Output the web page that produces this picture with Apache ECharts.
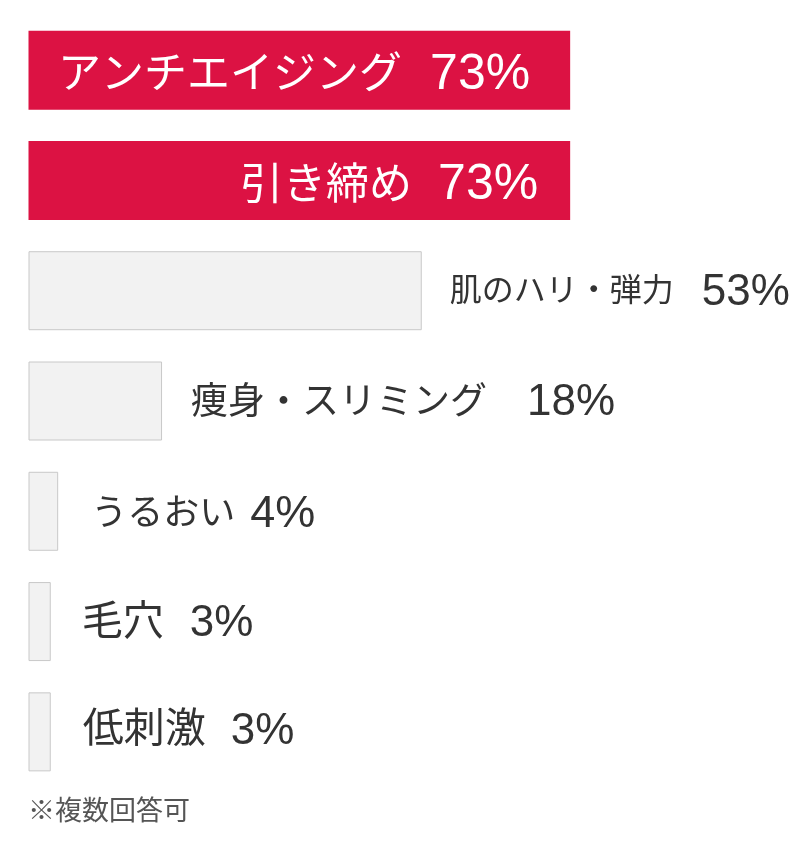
<!DOCTYPE html>
<html>
<head>
<meta charset="utf-8">
<script src="https://cdn.jsdelivr.net/npm/echarts@6/dist/echarts.min.js"></script>
<style>
html,body{margin:0;padding:0;background:#fff;}
#chart{width:800px;height:848px;}
</style>
</head>
<body>
<div id="chart"></div>
<script>
// Data
const categories = ['アンチエイジング', '引き締め', '肌のハリ・弾力', '痩身・スリミング', 'うるおい', '毛穴', '低刺激'];
const values = [73, 73, 53, 18, 4, 3, 3];
const highlighted = [true, true, false, false, false, false, false];
const footnote = '※複数回答可';

// Styles (per label: name font size, percent font size, gap, distance, vertical shifts)
const nameSizes = [43, 43, 32, 37, 36, 41, 41];
const pctSizes = [50, 50, 44, 44, 45, 44, 44];
const gaps = [28, 26, 28, 40, 15, 26, 25];
const distances = [40, 32, 28, 29, 33, 31, 32];
const nameShift = [2, 2, -2, -1, 0, -2, -5];
const pctShift = [5, 5, 2, 2, 3, 2, 0];

const RED = '#dc1243';
const JP = '"Noto Sans CJK JP", "Noto Sans CJK SC", sans-serif';
const LAT = '"Liberation Sans", Arial, sans-serif';

function shiftPad(d) {
  return d >= 0 ? [2 * d, 0, 0, 0] : [0, 0, -2 * d, 0];
}

const seriesData = values.map((v, i) => {
  const hi = highlighted[i];
  const color = hi ? '#ffffff' : '#333333';
  return {
    value: v,
    itemStyle: hi
      ? { color: RED, borderWidth: 0 }
      : { color: '#f2f2f2', borderColor: '#c8c8c8', borderWidth: 1 },
    label: {
      show: true,
      position: hi ? 'insideRight' : 'right',
      distance: distances[i],
      formatter: '{n|' + categories[i] + '}{s| }{p|' + v + '%}',
      rich: {
        n: { fontFamily: JP, fontSize: nameSizes[i], color: color, fontWeight: 'normal', padding: shiftPad(nameShift[i]) },
        s: { width: gaps[i], fontSize: 10 },
        p: { fontFamily: LAT, fontSize: pctSizes[i], color: color, fontWeight: 'normal', padding: shiftPad(pctShift[i]) }
      }
    }
  };
});

const chart = echarts.init(document.getElementById('chart'), null, { renderer: 'canvas' });
chart.setOption({
  animation: false,
  backgroundColor: '#ffffff',
  title: {
    text: footnote,
    left: 23,
    top: 791,
    textStyle: { fontFamily: JP, fontSize: 27, color: '#555555', fontWeight: 'normal' }
  },
  grid: { left: 28.5, right: 29.5, top: 15, bottom: 61, containLabel: false },
  xAxis: { type: 'value', min: 0, max: 100, show: false },
  yAxis: { type: 'category', data: categories, inverse: true, show: false },
  series: [{
    type: 'bar',
    data: seriesData,
    barWidth: 79,
    silent: true
  }]
});
</script>
</body>
</html>
